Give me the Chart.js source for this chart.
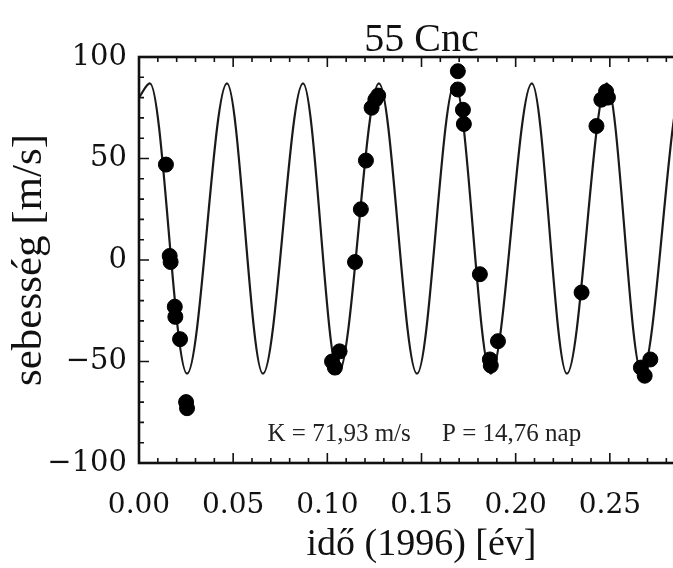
<!DOCTYPE html>
<html>
<head>
<meta charset="utf-8">
<script src="https://cdn.jsdelivr.net/npm/chart.js@4/dist/chart.umd.min.js"></script>
<style>
  html, body { margin: 0; padding: 0; background: #fff; overflow: hidden; }
  #wrap { width: 740px; height: 568px; }
</style>
</head>
<body>
<div id="wrap"><canvas id="rvChart" width="740" height="568"></canvas></div>
<script>
// fitted curve: extrema (time in years, velocity in m/s)
var modelTimes = [0.0000, 0.0058, 0.0255, 0.0467, 0.0658, 0.0871, 0.1058, 0.1274, 0.1476,
                  0.1677, 0.1868, 0.2086, 0.2272, 0.2484, 0.2670, 0.2888, 0.3090];
var modelVel   = [80, 87, -56, 87, -56, 87, -56, 87, -56,
                  87, -56, 87, -56, 87, -56, 87, -56];

// measured points
var obsTimes = [0.0143, 0.0163, 0.0168, 0.0190, 0.0193, 0.0218, 0.0250, 0.0255,
                0.1025, 0.1040, 0.1065, 0.1147, 0.1178, 0.1205, 0.1235, 0.1255, 0.1270,
                0.1693, 0.1693, 0.1720, 0.1725, 0.1810, 0.1863, 0.1868, 0.1906,
                0.2350, 0.2429, 0.2455, 0.2480, 0.2490, 0.2665, 0.2685, 0.2715];
var obsVel   = [47, 2, -1, -23, -28, -39, -70, -73,
                -50, -53, -45, -1, 25, 49, 75, 79, 81,
                93, 84, 74, 67, -7, -49, -52, -40,
                -16, 66, 79, 83, 80, -53, -57, -49];

var titleText = "55 Cnc";
var xTitle = "idő (1996) [év]";
var yTitle = "sebesség [m/s]";
var noteText = "K = 71,93 m/s     P = 14,76 nap";

var xRange = [0, 0.30];
var yRange = [-100, 100];

var modelPts = modelTimes.map(function (t, i) { return {x: t, y: modelVel[i]}; });
var obsPts = obsTimes.map(function (t, i) { return {x: t, y: obsVel[i]}; });

// IDL-like box with inward ticks on all sides, plus title and fit note
var idlFrame = {
  id: 'idlFrame',
  afterDatasetsDraw: function (chart) {
    var ctx = chart.ctx, a = chart.chartArea;
    var x = chart.scales.x, y = chart.scales.y;
    ctx.save();
    ctx.strokeStyle = '#111';
    ctx.lineWidth = 1.6;
    ctx.beginPath();
    for (var i = 0; i <= 30; i++) {
      var px = x.getPixelForValue(i * 0.01);
      var len = (i % 5 === 0) ? 10 : 5;
      ctx.moveTo(px, a.bottom); ctx.lineTo(px, a.bottom - len);
      ctx.moveTo(px, a.top); ctx.lineTo(px, a.top + len);
    }
    for (var j = -10; j <= 10; j++) {
      var py = y.getPixelForValue(j * 10);
      var len2 = (j % 5 === 0) ? 10 : 5;
      ctx.moveTo(a.left, py); ctx.lineTo(a.left + len2, py);
      ctx.moveTo(a.right, py); ctx.lineTo(a.right - len2, py);
    }
    ctx.stroke();
    ctx.lineWidth = 2.6;
    ctx.strokeRect(a.left, a.top, a.right - a.left, a.bottom - a.top);

    ctx.fillStyle = '#111';
    ctx.textAlign = 'center';
    ctx.textBaseline = 'middle';
    ctx.font = '40px "Liberation Serif", serif';
    ctx.fillText(titleText, (a.left + a.right) / 2, 40);

    ctx.fillStyle = '#222';
    ctx.font = '25px "Liberation Serif", serif';
    ctx.fillText(noteText, x.getPixelForValue(0.1515), y.getPixelForValue(-86));
    ctx.restore();
  }
};

var canvasRV = document.getElementById("rvChart");
var rvChart = new Chart(canvasRV, {
  type: 'scatter',
  data: {
    datasets: [
      {
        data: obsPts,
        backgroundColor: '#000',
        borderColor: '#000',
        pointRadius: 7.5,
        pointHoverRadius: 7.5,
        showLine: false
      },
      {
        data: modelPts,
        showLine: true,
        borderColor: '#1a1a1a',
        borderWidth: 2.2,
        pointRadius: 0,
        cubicInterpolationMode: 'monotone',
        fill: false
      }
    ]
  },
  plugins: [idlFrame],
  options: {
    responsive: false,
    animation: false,
    layout: { padding: { left: 0, right: 36, top: 57, bottom: 0 } },
    plugins: {
      legend: { display: false },
      tooltip: { enabled: false },
      title: { display: false }
    },
    scales: {
      x: {
        type: 'linear',
        min: xRange[0],
        max: xRange[1],
        grid: { display: false, drawTicks: false },
        border: { display: false },
        ticks: {
          stepSize: 0.05,
          padding: 26,
          color: '#111',
          maxRotation: 0,
          font: { family: '"DejaVu Serif", serif', size: 28 },
          // the 0.30 label falls outside the cropped picture
          callback: function (v) { return v > 0.28 ? '' : Number(v).toFixed(2); }
        },
        title: {
          display: true,
          text: xTitle,
          color: '#111',
          font: { family: '"Liberation Serif", serif', size: 38, lineHeight: 1 },
          padding: { top: 0, bottom: 4 }
        },
        afterFit: function (scale) { scale.height = 105; }
      },
      y: {
        min: yRange[0],
        max: yRange[1],
        grid: { display: false, drawTicks: false },
        border: { display: false },
        ticks: {
          stepSize: 50,
          padding: 12,
          color: '#111',
          font: { family: '"DejaVu Serif", serif', size: 29 },
          callback: function (v) { return v < 0 ? '\u2212' + Math.abs(v) : String(v); }
        },
        title: {
          display: true,
          text: yTitle,
          color: '#111',
          font: { family: '"Liberation Serif", serif', size: 43, lineHeight: 1.2 },
          padding: { top: 4, bottom: 0 }
        },
        afterFit: function (scale) { scale.width = 139; }
      }
    }
  }
});
</script>
</body>
</html>
